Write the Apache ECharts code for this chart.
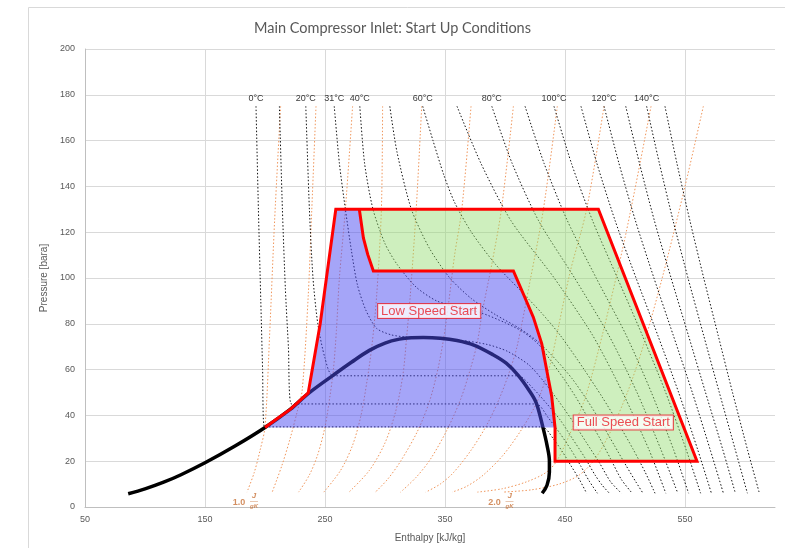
<!DOCTYPE html>
<html><head><meta charset="utf-8">
<script src="https://cdn.jsdelivr.net/npm/echarts@6/dist/echarts.min.js"></script>
<style>html,body{margin:0;padding:0;background:#fff}#c{width:785px;height:548px}</style>
</head><body><div id="c"></div>
<script>
// ---------- axis ----------
const xMin = 50, xMax = 625, xStep = 100;
const yMin = 0, yMax = 200, yStep = 20;

// ---------- saturation dome (enthalpy kJ/kg, pressure bara) ----------
const saturationDome = [[86,5.8],[100,7.9],[115,10.7],[130,14.1],[150,19.3],[175,26.6],[200,34.7],[221,42.6],[236,49.5],[257,57.6],[272,63.2],[287,68.4],[300,71.6],[312,73.3],[322,73.9],[332,74],[346,73.7],[360,72.7],[374,70.7],[390,66.5],[401,62.8],[411,57.5],[420,51],[426,45.5],[431.5,35],[435,27],[437,20],[437,15.2],[435,9.5],[431,6]];

// ---------- isotherms (°C) ----------
const isoT0   = [[192.5,175],[194.5,130],[196.5,90],[198,60],[199.5,35],[431,35],[440,30],[448,24],[455,18],[462,12],[468,6]];
const isoT10  = [[212,175],[214.5,130],[217,95],[219.5,70],[222,45],[426,45],[436,39],[446,32],[455,25],[463,18],[470,11.5],[477,6]];
const isoT20  = [[234,175],[237,130],[240,100],[244,80],[250,65],[257,57.3],[411,57.3],[423,52],[435,45],[446,38],[456,30],[466,22],[475,14],[481,9.5],[487,6]];
const isoT31  = [[257.7,175],[262,150],[267,130],[272,112],[277,97],[284,86],[293,78],[305,75.2],[318,74.2],[332,73.8],[360,73],[385,71],[402,68],[420,62],[432,55],[445,46],[457,37],[468,28],[479,19],[488,11],[497,6]];
const isoT40  = [[279,175],[283,150],[290,130],[300,115],[310,106],[326,96],[343,90],[360,87.5],[379,85],[400,80.5],[415,76.5],[428,71],[438,64],[449,56],[459,48],[469,39],[479,30],[488,21],[497,12],[506,6]];
const isoT50  = [[304,175],[310,155],[322,130],[337,113],[354,100],[372,91],[392,84],[412,78],[428,72],[443,64],[456,56],[468,47],[480,37],[491,27],[501,18],[509,11],[515,6]];
const isoT60  = [[331.4,175],[340,160],[349,145],[358,133],[372,120],[392,106],[412,95],[430,85],[446,75],[466,60],[481,48],[495,36],[507,25],[517,15],[525,6]];
const isoT70  = [[360,175],[380,150],[405,125],[441,100],[473,75],[498,50],[520,25],[534,6]];
const isoT80  = [[389,175],[406,150],[428,125],[458,100],[486.5,75],[510,50],[530,25],[544,6]];
const isoT90  = [[416.7,175],[432.6,150],[452,125],[476,100],[501,75],[522,50],[540.5,25],[553,6]];
const isoT100 = [[440.8,175],[455.4,150],[473,125],[493.7,100],[514.4,75],[533.9,50],[551,25],[563,6]];
const isoT110 = [[463.3,175],[476.6,150],[491.8,125],[509.2,100],[527.3,75],[544.7,50],[560.6,25],[572,6]];
const isoT120 = [[482.5,175],[495,150],[508.7,125],[524.1,100],[540.2,75],[556.1,50],[571,25],[582,6]];
const isoT130 = [[500.6,175],[512.1,150],[524.5,125],[538.4,100],[552.8,75],[567.1,50],[581.5,25],[592,6]];
const isoT140 = [[518,175],[528.7,150],[540.1,125],[552.5,100],[565.5,75],[578.6,50],[591.9,25],[602,6]];
const isoT150 = [[533.3,175],[543.3,150],[554.1,125],[565.6,100],[577.6,75],[589.6,50],[602.1,25],[612,6]];
const isothermLines = [isoT0,isoT10,isoT20,isoT31,isoT40,isoT50,isoT60,isoT70,isoT80,isoT90,isoT100,isoT110,isoT120,isoT130,isoT140,isoT150];
const isothermTemps = [0,10,20,31,40,50,60,70,80,90,100,110,120,130,140,150];
const labelledTemps = [0,20,31,40,60,80,100,120,140];

// ---------- isentropes (J/gK) ----------
const isoS10 = [[213,175],[208,125],[204,77],[200,35],[196,25],[191,15],[185,6.5]];
const isoS11 = [[242.5,175],[239,130],[236,92],[231,51],[227,42],[221,30],[214,18],[206,6.5]];
const isoS12 = [[273,175],[267,130],[262,100],[259.5,77],[257,60],[254,48],[250,35],[244,23],[237,14],[228,6.5]];
const isoS13 = [[298,175],[297,130],[293,92],[289,70],[285,55],[280,40],[273,27],[263,16],[249,6.5]];
const isoS14 = [[330.6,175],[326,130],[321,92],[318,74],[315,58],[309,42],[300,28],[287,16],[270,6.5]];
const isoS15 = [[371.7,175],[364,130],[358,110],[353,89],[349,74],[344,60],[337,46],[327,33],[313,20],[302,12],[292,6.5]];
const isoS16 = [[407,175],[397,130],[389,106],[381,85],[377,72],[371,60],[363,47],[352,34],[338,21],[326,13],[313,6.5]];
const isoS17 = [[443.6,175],[432,130],[421,99],[410,70],[403,58],[395,47],[385,36],[372,25],[357,15],[346,10],[334,6.5]];
const isoS18 = [[482.5,175],[468,130],[454,102],[438,63],[430,50],[424,43],[414,34],[399,23],[382,14],[368,9],[356,6.5]];
const isoS19 = [[521.7,175],[501,120],[482,77],[467,48],[455,33],[443,20],[434,15],[418,11],[398,8],[377,6.5]];
const isoS20 = [[565.3,175],[550,140],[531,100],[515,70],[502,50],[488,33],[475,21],[462,14],[445,10],[422,7.5],[398,6.5]];
const isentropeLines = [isoS10,isoS11,isoS12,isoS13,isoS14,isoS15,isoS16,isoS17,isoS18,isoS19,isoS20];
const entropyLabels = ['1.0','2.0'];

// ---------- start-up regions ----------
const envelopeLeft   = [[200,34.7],[210,38.5],[221,42.6],[236,49.8],[246,80],[259,130]];
const speedDivider   = [[278.6,130],[282,117.5],[285.6,110.3],[290.3,103.1],[407,103.1],[415.3,93],[423.6,82.9],[430.6,71.4],[434.7,59.9],[438.9,48.4],[441.7,34.7]];
const fullSpeedOuter = [[477.8,130],[560,20],[441.7,20]];
const regionNames    = ['Low Speed Start','Full Speed Start'];
const regionLabelAt  = [[336.8,85.6],[498.6,36.9]];

// ---------- build ----------
const lowSpeedPoly  = envelopeLeft.concat(speedDivider);
const fullSpeedPoly = [speedDivider[0]].concat(fullSpeedOuter, speedDivider.slice().reverse());
const redOutline    = envelopeLeft.concat(fullSpeedOuter, speedDivider.slice().reverse());

const dotted = [1.5, 2];
const series = [];
isentropeLines.forEach(d=>series.push({type:'line', data:d, showSymbol:false, smooth:0.3, silent:true, z:2,
  lineStyle:{color:'#F0955A', width:1, type:dotted}}));
isothermLines.forEach(d=>series.push({type:'line', data:d, showSymbol:false, smooth:0.25, silent:true, z:2,
  lineStyle:{color:'#111', width:1, type:dotted}}));
series.push({type:'line', data:saturationDome, showSymbol:false, smooth:0.35, silent:true, z:3,
  lineStyle:{color:'#000', width:3.5}});
function poly(points, fill){
  return {type:'custom', coordinateSystem:'cartesian2d', data:[[points[0][0],points[0][1]]], silent:true, z:4,
    renderItem:(p, api)=>({type:'polygon', shape:{points: points.map(q=>api.coord(q))}, style:{fill}})};
}
series.push(poly(lowSpeedPoly,'rgba(76,76,242,0.5)'));
series.push(poly(fullSpeedPoly,'rgba(146,220,110,0.45)'));
series.push({type:'line', data:redOutline, showSymbol:false, silent:true, z:5,
  lineStyle:{color:'#FF0000', width:3, join:'miter'}});
// isotherm labels at top of lines
series.push({type:'scatter', symbolSize:0, silent:true, z:6,
  data: labelledTemps.map(t=>{const d=isothermLines[isothermTemps.indexOf(t)][0]; return {value:[d[0],d[1]], name:t+'°C'};}),
  label:{show:true, position:'top', distance:3, formatter:'{b}', color:'#000', fontSize:9, fontFamily:'Liberation Sans'}});
// entropy labels at bottom of the first and last isentropes
const sEnds = [isoS10[isoS10.length-1], isoS20[isoS20.length-1]];
series.push({type:'scatter', symbolSize:0, silent:true, z:6,
  data: sEnds.map((d,i)=>({value:[d[0],d[1]], name:entropyLabels[i]})),
  label:{show:true, position:'inside', offset:[-8,10], formatter:'{n|{b}}', rich:{n:{color:'#C8733A', fontSize:9, fontWeight:'bold', fontFamily:'Liberation Sans'}}}});
series.push({type:'scatter', symbolSize:0, silent:true, z:6,
  data: sEnds.map(d=>({value:[d[0],d[1]]})),
  label:{show:true, position:'inside', offset:[7,9], formatter:'{j|J}\n{l|—}\n{k|gK}',
    rich:{j:{color:'#C8733A', fontSize:8, fontStyle:'italic', fontWeight:'bold', lineHeight:7, align:'center'},
          l:{color:'#C8733A', fontSize:8, lineHeight:3, align:'center'},
          k:{color:'#C8733A', fontSize:6, fontStyle:'italic', fontWeight:'bold', lineHeight:7, align:'center'}}}});
// region labels
series.push({type:'scatter', symbolSize:0, silent:true, z:7,
  data: regionLabelAt.map((d,i)=>({value:d, name:regionNames[i]})),
  label:{show:true, position:'inside', formatter:'{b}', color:'#E8202A', fontSize:13, fontFamily:'Liberation Sans',
    backgroundColor:'#fff', borderColor:'#E8202A', borderWidth:1, padding:[1,3,0,3]}});

const chart = echarts.init(document.getElementById('c'), null, {renderer:'canvas'});
chart.setOption({
  animation:false,
  backgroundColor:'#fff',
  title:{text:'Main Compressor Inlet: Start Up Conditions', left:'center', top:16,
    textStyle:{color:'#595959', fontSize:14.5, fontWeight:'normal', fontFamily:'Lato'}},
  graphic:[{type:'rect', shape:{x:28.5, y:7.5, width:800, height:600}, style:{fill:null, stroke:'#D9D9D9', lineWidth:1}, silent:true}],
  grid:{left:85, right:10, top:49, bottom:36, containLabel:false},
  xAxis:{type:'value', min:xMin, max:xMax, interval:xStep,
    name:'Enthalpy [kJ/kg]', nameLocation:'middle', nameGap:26,
    nameTextStyle:{color:'#595959', fontSize:10, fontFamily:'Liberation Sans'},
    axisLine:{show:true, lineStyle:{color:'#BFBFBF'}}, axisTick:{show:false},
    axisLabel:{color:'#595959', fontSize:9, margin:8, showMaxLabel:false, fontFamily:'Liberation Sans'},
    splitLine:{show:true, showMaxLine:false, lineStyle:{color:'#D9D9D9'}}},
  yAxis:{type:'value', min:yMin, max:yMax, interval:yStep,
    name:'Pressure [bara]', nameLocation:'middle', nameGap:30,
    nameTextStyle:{color:'#595959', fontSize:10, fontFamily:'Liberation Sans'},
    axisLine:{show:true, lineStyle:{color:'#BFBFBF'}}, axisTick:{show:false},
    axisLabel:{color:'#595959', fontSize:9, margin:10, fontFamily:'Liberation Sans'},
    splitLine:{show:true, lineStyle:{color:'#D9D9D9'}}},
  series
});
</script></body></html>
